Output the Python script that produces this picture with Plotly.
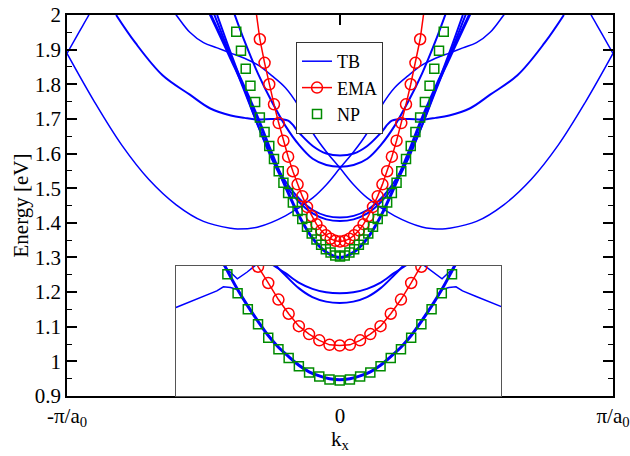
import plotly.graph_objects as go

# ---------------- data (k in units of pi/a0, E in eV) ----------------
# EMA (main) on k grid of step 0.01727
ema_k = [-0.3109, -0.2936, -0.2763, -0.2591, -0.2418, -0.2245, -0.2072, -0.1900, -0.1727, -0.1554,
         -0.1382, -0.1209, -0.1036, -0.0863, -0.0691, -0.0518, -0.0345, -0.0173, 0.0,
         0.0173, 0.0345, 0.0518, 0.0691, 0.0863, 0.1036, 0.1209, 0.1382, 0.1554, 0.1727,
         0.1900, 0.2072, 0.2245, 0.2418, 0.2591, 0.2763, 0.2936, 0.3109]
ema_E = [2.03, 1.93, 1.862, 1.800, 1.742, 1.688, 1.637, 1.591, 1.549, 1.511,
         1.477, 1.446, 1.419, 1.396, 1.378, 1.364, 1.354, 1.348, 1.346,
         1.348, 1.354, 1.364, 1.378, 1.396, 1.419, 1.446, 1.477, 1.511, 1.549,
         1.591, 1.637, 1.688, 1.742, 1.800, 1.862, 1.93, 2.03]

# NP (main)
np_k = [-0.3800, -0.3627, -0.3454, -0.3281, -0.3109, -0.2936, -0.2763, -0.2591, -0.2418, -0.2245,
        -0.2072, -0.1900, -0.1727, -0.1554, -0.1382, -0.1209, -0.1036, -0.0863, -0.0691, -0.0518,
        -0.0345, -0.0173, 0.0, 0.0173, 0.0345, 0.0518, 0.0691, 0.0863, 0.1036, 0.1209, 0.1382,
        0.1554, 0.1727, 0.1900, 0.2072, 0.2245, 0.2418, 0.2591, 0.2763, 0.2936, 0.3109, 0.3281,
        0.3454, 0.3627, 0.3800]
np_E = [1.952, 1.897, 1.845, 1.796, 1.749, 1.704, 1.662, 1.622, 1.584, 1.549,
        1.516, 1.486, 1.459, 1.434, 1.411, 1.389, 1.369, 1.352, 1.337, 1.324,
        1.314, 1.306, 1.303, 1.306, 1.314, 1.324, 1.337, 1.352, 1.369, 1.389, 1.411,
        1.434, 1.459, 1.486, 1.516, 1.549, 1.584, 1.622, 1.662, 1.704, 1.749, 1.796,
        1.845, 1.897, 1.952]

# TB bands (main)
tb_low_k = [-0.48, -0.45, -0.4, -0.35, -0.3, -0.25, -0.2, -0.15, -0.1, -0.05, 0.0,
            0.05, 0.1, 0.15, 0.2, 0.25, 0.3, 0.35, 0.4, 0.45, 0.48]
tb_low_E = [2.01, 1.96, 1.875, 1.79, 1.70, 1.60, 1.505, 1.42, 1.355, 1.315, 1.300,
            1.315, 1.355, 1.42, 1.505, 1.60, 1.70, 1.79, 1.875, 1.96, 2.01]

tb_m4_k = [-0.45, -0.4, -0.35, -0.3, -0.25, -0.2, -0.15, -0.1, -0.05, 0.0,
           0.05, 0.1, 0.15, 0.2, 0.25, 0.3, 0.35, 0.4, 0.45]
tb_m4_E = [2.0, 1.89, 1.785, 1.68, 1.585, 1.51, 1.46, 1.427, 1.41, 1.405,
           1.41, 1.427, 1.46, 1.51, 1.585, 1.68, 1.785, 1.89, 2.0]

tb_m5_k = [-0.47, -0.45, -0.4, -0.35, -0.3, -0.25, -0.2, -0.15, -0.1, -0.05, 0.0,
           0.05, 0.1, 0.15, 0.2, 0.25, 0.3, 0.35, 0.4, 0.45, 0.47]
tb_m5_E = [2.02, 1.98, 1.88, 1.78, 1.68, 1.59, 1.52, 1.47, 1.437, 1.42, 1.415,
           1.42, 1.437, 1.47, 1.52, 1.59, 1.68, 1.78, 1.88, 1.98, 2.02]

tb_u1_k = [-0.82, -0.75, -0.65, -0.55, -0.475, -0.4, -0.35, -0.3, -0.25, -0.19, -0.15, -0.1, -0.05, 0.0,
           0.05, 0.1, 0.15, 0.19, 0.25, 0.3, 0.35, 0.4, 0.475, 0.55, 0.65, 0.75, 0.82]
tb_u1_E = [2.0, 1.92, 1.826, 1.77, 1.73, 1.71, 1.703, 1.698, 1.70, 1.695, 1.66, 1.622, 1.60, 1.594,
           1.60, 1.622, 1.66, 1.695, 1.70, 1.698, 1.703, 1.71, 1.73, 1.77, 1.826, 1.92, 2.0]

tb_u2_k = [-0.39, -0.35, -0.3, -0.25, -0.2, -0.15, -0.1, -0.05, 0.0,
           0.05, 0.1, 0.15, 0.2, 0.25, 0.3, 0.35, 0.39]
tb_u2_E = [2.01, 1.925, 1.83, 1.75, 1.68, 1.625, 1.585, 1.567, 1.562,
           1.567, 1.585, 1.625, 1.68, 1.75, 1.83, 1.925, 2.01]

tb_s_k = [-1.0, -0.9, -0.8, -0.7, -0.6, -0.5, -0.4, -0.375, -0.3, -0.2, -0.1, -0.05, 0.0,
          0.05, 0.1, 0.15, 0.2, 0.25, 0.3, 0.35, 0.4, 0.45, 0.5, 0.55, 0.6, 0.62]
tb_s_E = [1.889, 1.75, 1.625, 1.525, 1.452, 1.404, 1.384, 1.382, 1.388, 1.42, 1.472, 1.51, 1.558,
          1.605, 1.66, 1.735, 1.79, 1.825, 1.855, 1.875, 1.89, 1.905, 1.92, 1.95, 2.0, 2.02]
tb_s2_k = [-0.62, -0.6, -0.55, -0.5, -0.45, -0.4, -0.35, -0.3, -0.25, -0.2, -0.15, -0.1, -0.05, 0.0,
           0.05, 0.1, 0.2, 0.3, 0.375, 0.4, 0.5, 0.6, 0.7, 0.8, 0.9, 1.0]
tb_s2_E = [2.02, 2.0, 1.95, 1.92, 1.905, 1.89, 1.875, 1.855, 1.825, 1.79, 1.735, 1.66, 1.605, 1.558,
           1.51, 1.472, 1.42, 1.388, 1.382, 1.384, 1.404, 1.452, 1.525, 1.625, 1.75, 1.889]

tb_edge_l_k = [-1.0, -0.96, -0.92, -0.9]
tb_edge_l_E = [1.889, 1.945, 2.0, 2.03]
tb_edge_r_k = [0.9, 0.92, 0.96, 1.0]
tb_edge_r_E = [2.03, 2.0, 1.945, 1.889]

# ---------------- inset data ----------------
in_k = [-0.4488, -0.4114, -0.3740, -0.3366, -0.2992, -0.2618, -0.2244, -0.1870, -0.1496, -0.1122,
        -0.0748, -0.0374, 0.0, 0.0374, 0.0748, 0.1122, 0.1496, 0.1870, 0.2244, 0.2618, 0.2992,
        0.3366, 0.3740, 0.4114, 0.4488]
in_tb_E = [1.32, 1.262, 1.208, 1.160, 1.116, 1.075, 1.041, 1.014, 0.989, 0.970,
           0.958, 0.950, 0.947, 0.950, 0.958, 0.970, 0.989, 1.014, 1.041, 1.075, 1.116,
           1.160, 1.208, 1.262, 1.32]
in_np_k = [-0.4114, -0.3740, -0.3366, -0.2992, -0.2618, -0.2244, -0.1870, -0.1496, -0.1122,
           -0.0748, -0.0374, 0.0, 0.0374, 0.0748, 0.1122, 0.1496, 0.1870, 0.2244, 0.2618, 0.2992,
           0.3366, 0.3740, 0.4114]
in_np_E = [1.2524, 1.1974, 1.1507, 1.1075, 1.0686, 1.0354, 1.010, 0.9859, 0.9677,
           0.9562, 0.9476, 0.9447, 0.9476, 0.9562, 0.9677, 0.9859, 1.010, 1.0354, 1.0686, 1.1075,
           1.1507, 1.1974, 1.2524]
in_ema_k = [-0.3366, -0.2992, -0.2618, -0.2244, -0.1870, -0.1496, -0.1122, -0.0748, -0.0374, 0.0,
            0.0374, 0.0748, 0.1122, 0.1496, 0.1870, 0.2244, 0.2618, 0.2992, 0.3366]
in_ema_E = [1.33, 1.274, 1.227, 1.179, 1.138, 1.102, 1.079, 1.061, 1.048, 1.046,
            1.048, 1.061, 1.079, 1.102, 1.138, 1.179, 1.227, 1.274, 1.33]

in_low_k = [-0.6, -0.55, -0.5, -0.45, -0.426, -0.40, -0.374, -0.3366, -0.2992, -0.2618, -0.2244,
            -0.1870, -0.1496, -0.1122, -0.0748, -0.0374, 0.0, 0.0374, 0.0748, 0.1122, 0.1496, 0.1870,
            0.2244, 0.2618, 0.2992, 0.3366, 0.374, 0.40, 0.426, 0.45, 0.5, 0.55, 0.6]
in_low_E = [1.156, 1.172, 1.188, 1.204, 1.216, 1.214, 1.208, 1.160, 1.116, 1.075, 1.041,
            1.014, 0.989, 0.970, 0.958, 0.950, 0.947, 0.950, 0.958, 0.970, 0.989, 1.014,
            1.041, 1.075, 1.116, 1.160, 1.208, 1.214, 1.216, 1.204, 1.188, 1.172, 1.156]
in_up_k = [-0.44, -0.41, -0.375, -0.34, -0.31, -0.28, -0.2, 0.0, 0.2, 0.28, 0.31, 0.34, 0.375, 0.41, 0.44]
in_up_E = [1.29, 1.265, 1.239, 1.258, 1.277, 1.295, 1.35, 1.45, 1.35, 1.295, 1.277, 1.258, 1.239, 1.265, 1.29]

in_c1_k = [-0.27, -0.245, -0.2, -0.15, -0.1, -0.05, 0.0, 0.05, 0.1, 0.15, 0.2, 0.245, 0.27]
in_c1_E = [1.295, 1.279, 1.256, 1.228, 1.21, 1.20, 1.197, 1.20, 1.21, 1.228, 1.256, 1.279, 1.295]
in_c2_k = [-0.24, -0.22, -0.2, -0.15, -0.1, -0.05, 0.0, 0.05, 0.1, 0.15, 0.2, 0.22, 0.24]
in_c2_E = [1.283, 1.266, 1.25, 1.212, 1.186, 1.173, 1.169, 1.173, 1.186, 1.212, 1.25, 1.266, 1.283]

y_ticks = [0.9, 1.0, 1.1, 1.2, 1.3, 1.4, 1.5, 1.6, 1.7, 1.8, 1.9, 2.0]
y_labels = ["0.9", "1", "1.1", "1.2", "1.3", "1.4", "1.5", "1.6", "1.7", "1.8", "1.9", "2"]
x_ticks = [-1, 0, 1]
x_labels = ["-π/a<sub>0</sub>", "0", "π/a<sub>0</sub>"]

# ---------------- figure ----------------
BLUE = "#0000ff"
RED = "#ff0000"
GREEN = "#008b00"
FONT = "Liberation Serif, Times New Roman, serif"

fig = go.Figure()

main_bands = [
    (tb_s_k, tb_s_E, 1.5),
    (tb_s2_k, tb_s2_E, 1.5),
    (tb_low_k, tb_low_E, 3.0),
    (tb_m4_k, tb_m4_E, 2.0),
    (tb_m5_k, tb_m5_E, 2.0),
    (tb_u1_k, tb_u1_E, 2.0),
    (tb_u2_k, tb_u2_E, 2.0),
    (tb_edge_l_k, tb_edge_l_E, 1.5),
    (tb_edge_r_k, tb_edge_r_E, 1.5),
]
for i, (kk, ee, w) in enumerate(main_bands):
    fig.add_trace(go.Scatter(x=kk, y=ee, mode="lines", line=dict(color=BLUE, width=w, shape="spline"),
                             name="TB", showlegend=(i == 0), legendgroup="TB"))

inset_bands = [
    (in_k, in_tb_E, 3.0, "spline"),
    (in_low_k, in_low_E, 1.5, "linear"),
    (in_up_k, in_up_E, 1.5, "linear"),
    (in_c1_k, in_c1_E, 2.0, "spline"),
    (in_c2_k, in_c2_E, 2.0, "spline"),
]
for kk, ee, w, sh in inset_bands:
    fig.add_trace(go.Scatter(x=kk, y=ee, mode="lines", line=dict(color=BLUE, width=w, shape=sh),
                             xaxis="x2", yaxis="y2", showlegend=False, legendgroup="TB"))

fig.add_trace(go.Scatter(x=ema_k, y=ema_E, mode="lines+markers", name="EMA",
                         line=dict(color=RED, width=1.5),
                         marker=dict(symbol="circle-open", size=11, color=RED, line=dict(width=1.5, color=RED)),
                         legendgroup="EMA"))
fig.add_trace(go.Scatter(x=in_ema_k, y=in_ema_E, mode="lines+markers", showlegend=False,
                         line=dict(color=RED, width=1.5),
                         marker=dict(symbol="circle-open", size=11, color=RED, line=dict(width=1.5, color=RED)),
                         xaxis="x2", yaxis="y2", legendgroup="EMA"))

fig.add_trace(go.Scatter(x=np_k, y=np_E, mode="markers", name="NP",
                         marker=dict(symbol="square-open", size=9, color=GREEN, line=dict(width=1.5, color=GREEN)),
                         legendgroup="NP"))
fig.add_trace(go.Scatter(x=in_np_k, y=in_np_E, mode="markers", showlegend=False,
                         marker=dict(symbol="square-open", size=9, color=GREEN, line=dict(width=1.5, color=GREEN)),
                         xaxis="x2", yaxis="y2", legendgroup="NP"))

L, R, T, B = 67, 17, 15, 60
W, H = 630, 456
pw, ph = W - L - R, H - T - B
x0_px, x1_px, ytop_px = 175.7, 501.0, 265.5
fig.update_layout(
    width=W, height=H,
    margin=dict(l=L, r=R, t=T, b=B, autoexpand=False),
    paper_bgcolor="white", plot_bgcolor="white",
    font=dict(family=FONT, size=21, color="black"),
    showlegend=True,
    legend=dict(x=(296 - L) / pw, y=1 - (42 - T) / ph, xanchor="left", yanchor="top",
                bgcolor="white", bordercolor="#333333", borderwidth=1,
                font=dict(family=FONT, size=18), tracegroupgap=0, itemwidth=30),
    xaxis=dict(range=[-1, 1], tickvals=x_ticks, ticktext=x_labels, ticks="inside", ticklen=10,
               tickwidth=1.5, tickcolor="black", showline=True, linecolor="black", linewidth=1.5,
               mirror="allticks", showgrid=False, zeroline=False, automargin=False,
               tickfont=dict(family=FONT, size=21)),
    yaxis=dict(range=[0.9, 2.0], tickvals=y_ticks, ticktext=y_labels, ticks="inside", ticklen=10,
               tickwidth=1.5, tickcolor="black", showline=True, linecolor="black", linewidth=1.5,
               mirror="allticks", showgrid=False, zeroline=False, automargin=False,
               tickfont=dict(family=FONT, size=21),
               minor=dict(ticks="inside", ticklen=5, dtick=0.05, tick0=0.9, tickcolor="black", tickwidth=1.2, showgrid=False)),
    xaxis2=dict(domain=[(x0_px - L) / pw, (x1_px - L) / pw], anchor="y2",
                range=[(x0_px - 339.7) / 273, (x1_px - 339.7) / 273],
                showline=True, linecolor="#555555", linewidth=1, mirror=True, automargin=False,
                showticklabels=False, ticks="", showgrid=False, zeroline=False),
    yaxis2=dict(domain=[0, (396 - ytop_px) / ph], anchor="x2",
                range=[0.9, 0.9 + (396.5 - ytop_px) / 347],
                showline=True, linecolor="#555555", linewidth=1, mirror=True, automargin=False,
                showticklabels=False, ticks="", showgrid=False, zeroline=False),
    annotations=[
        dict(text="Energy [eV]", xref="paper", yref="paper", x=(20 - L) / pw, y=0.5,
             textangle=-90, showarrow=False, xanchor="center", yanchor="middle",
             font=dict(family=FONT, size=21)),
        dict(text="k<sub>x</sub>", xref="paper", yref="paper", x=(340 - L) / pw, y=(396 - 440) / ph,
             showarrow=False, xanchor="center", yanchor="middle",
             font=dict(family=FONT, size=21)),
    ],
)

fig.write_html("out.html")
